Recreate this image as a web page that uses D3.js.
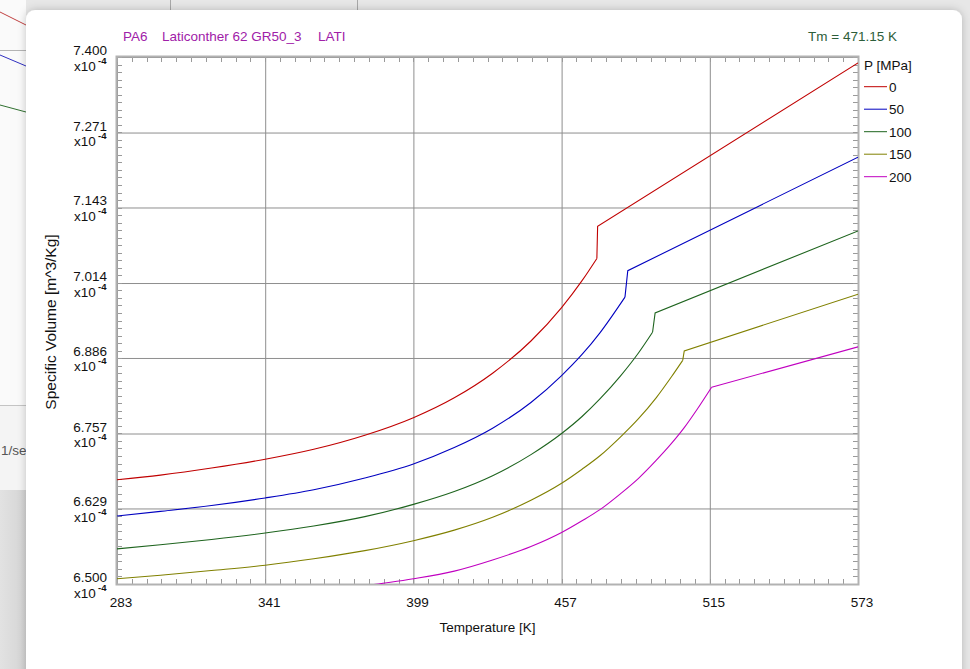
<!DOCTYPE html>
<html>
<head>
<meta charset="utf-8">
<script src="https://cdn.jsdelivr.net/npm/d3@7"></script>
<style>
  body { margin: 0; background: #e8e8e8; overflow: hidden; }
  svg { display: block; font-family: Arial, "Liberation Sans", sans-serif; }
</style>
</head>
<body>
<div class="canvas"></div>
<script>
// pressure series, temperature [K] vs specific volume [x10^-4 m^3/Kg]
const pressures = ['0', '50', '100', '150', '200']
const colors = ['#c00000', '#0000c0', '#1e641e', '#808000', '#c000c0']
// temperature where each curve leaves the solid branch
const kneeT = [470.8, 481.8, 492.6, 504.4, 515.7]

const p0 = [[283, 6.678], [300, 6.686], [320, 6.698], [341, 6.713], [360, 6.730], [380, 6.754],
  [399, 6.784], [415, 6.818], [430, 6.860], [445, 6.915], [457, 6.972], [465, 7.018],
  [470.8, 7.056], [471.1, 7.111], [573, 7.390]]
const p50 = [[283, 6.616], [300, 6.624], [320, 6.634], [341, 6.647], [360, 6.661], [380, 6.681],
  [399, 6.705], [415, 6.733], [430, 6.766], [445, 6.810], [457, 6.856], [465, 6.892],
  [472, 6.929], [481.8, 6.990], [482.9, 7.035], [573, 7.229]]
const p100 = [[283, 6.560], [300, 6.567], [320, 6.576], [341, 6.587], [360, 6.599], [380, 6.615],
  [399, 6.636], [415, 6.658], [430, 6.685], [445, 6.721], [457, 6.757], [465, 6.786],
  [472, 6.816], [480, 6.855], [487, 6.894], [492.6, 6.930], [493.6, 6.963], [573, 7.103]]
const p150 = [[283, 6.509], [300, 6.515], [320, 6.523], [341, 6.532], [360, 6.543], [380, 6.557],
  [399, 6.574], [415, 6.592], [430, 6.614], [445, 6.643], [457, 6.672], [465, 6.696],
  [472, 6.719], [480, 6.751], [487, 6.782], [494, 6.818], [500, 6.854], [504.4, 6.882],
  [505.0, 6.898], [573, 6.995]]
const p200 = [[378, 6.496], [390, 6.503], [399, 6.509], [415, 6.522], [430, 6.541], [445, 6.564],
  [457, 6.588], [465, 6.608], [472, 6.627], [480, 6.654], [487, 6.680], [494, 6.711],
  [500, 6.740], [505, 6.767], [510, 6.798], [515.7, 6.836], [573, 6.905]]
const series = [p0, p50, p100, p150, p200]

const xTicks = [283, 341, 399, 457, 515, 573]
const yTickLabels = ['6.500', '6.629', '6.757', '6.886', '7.014', '7.143', '7.271', '7.400']

const dimensions = {
  margin: { top: 57, left: 117 },
  chartWidth: 970,
  chartHeight: 669,
  graphWidth: 741,
  graphHeight: 527,
}
const W = dimensions.graphWidth
const H = dimensions.graphHeight

const svg = d3
  .select('.canvas')
  .append('svg')
  .attr('width', dimensions.chartWidth)
  .attr('height', dimensions.chartHeight)

const defs = svg.append('defs')
const fade = defs.append('linearGradient').attr('id', 'fade').attr('x1', 0).attr('x2', 1)
fade.append('stop').attr('offset', 0).attr('stop-color', '#e2e2e2')
fade.append('stop').attr('offset', 1).attr('stop-color', '#d4d4d4')
const shadow = defs.append('filter').attr('id', 'shadow').attr('x', '-5%').attr('y', '-5%')
  .attr('width', '110%').attr('height', '110%')
shadow.append('feDropShadow').attr('dx', 0).attr('dy', 0).attr('stdDeviation', 4)
  .attr('flood-color', '#000').attr('flood-opacity', 0.22)
defs.append('clipPath').attr('id', 'plot-clip')
  .append('rect').attr('width', W).attr('height', H)

// background (window behind the dialog)
const bg = svg.append('g')
bg.append('rect').attr('width', 970).attr('height', 669).attr('fill', '#e7e7e7')
bg.append('rect').attr('width', 26).attr('height', 405).attr('fill', '#fafafa')
bg.append('line').attr('x1', 0).attr('x2', 26).attr('y1', 50.5).attr('y2', 50.5).attr('stroke', '#b4b4b4')
const bgLines = [[12, 25, '#c04040'], [55, 66, '#3030c0'], [105, 112, '#307030']]
bgLines.forEach(([a, b, c]) =>
  bg.append('line').attr('x1', 0).attr('x2', 26).attr('y1', a).attr('y2', b).attr('stroke', c))
bg.append('line').attr('x1', 0).attr('x2', 26).attr('y1', 405.5).attr('y2', 405.5).attr('stroke', '#c4c4c4')
bg.append('rect').attr('y', 406).attr('width', 26).attr('height', 84).attr('fill', '#f4f4f4')
bg.append('rect').attr('y', 490).attr('width', 26).attr('height', 179).attr('fill', 'url(#fade)')
bg.append('text').attr('x', 1).attr('y', 455).attr('font-size', 13.5).attr('fill', '#555').text('1/se')
bg.append('line').attr('x1', 170.5).attr('x2', 170.5).attr('y1', 0).attr('y2', 10).attr('stroke', '#a8a8a8')
bg.append('line').attr('x1', 357.5).attr('x2', 357.5).attr('y1', 0).attr('y2', 10).attr('stroke', '#a8a8a8')

// dialog panel
svg.append('rect')
  .attr('x', 26).attr('y', 10).attr('width', 936).attr('height', 700).attr('rx', 9)
  .attr('fill', '#fff').attr('filter', 'url(#shadow)')

const graph = svg
  .append('g')
  .attr('transform', `translate(${dimensions.margin.left}, ${dimensions.margin.top})`)

// scales
const x = d3.scaleLinear().domain([283, 573]).range([0, W])
const y = d3.scaleLinear().domain([6.5, 7.4]).range([H, 0])
const yTicks = yTickLabels.map(Number)

// grid lines
graph.append('g')
  .call(d3.axisBottom(x).tickValues(xTicks).tickSize(H).tickFormat(''))
  .call((g) => g.select('.domain').remove())
  .selectAll('line').attr('stroke', '#8e8e8e')
graph.append('g')
  .call(d3.axisLeft(y).tickValues(yTicks).tickSize(-W).tickFormat(''))
  .call((g) => g.select('.domain').remove())
  .selectAll('line').attr('stroke', '#8e8e8e')

// minor ticks on all four sides
const xMinor = d3.range(0, 51).map((i) => x.invert((i * W) / 50))
const yMinor = d3.range(0, 71).map((i) => y.invert((i * H) / 70))
const ticks = graph.append('g').attr('stroke', '#9a9a9a')
xMinor.forEach((v) => {
  const px = Math.round(x(v)) + 0.5
  ticks.append('line').attr('x1', px).attr('x2', px).attr('y1', 0).attr('y2', 5)
  ticks.append('line').attr('x1', px).attr('x2', px).attr('y1', H - 5).attr('y2', H)
})
yMinor.forEach((v) => {
  const py = Math.round(y(v)) + 0.5
  ticks.append('line').attr('x1', 0).attr('x2', 5).attr('y1', py).attr('y2', py)
  ticks.append('line').attr('x1', W - 5).attr('x2', W).attr('y1', py).attr('y2', py)
})

// plot border
graph.append('rect')
  .attr('x', -0.5).attr('y', -0.5).attr('width', W + 1).attr('height', H + 1)
  .attr('fill', 'none').attr('stroke', '#b2b2b2').attr('stroke-width', 2)

// curves: smooth solid branch, then the melt jump and straight melt branch
const solidLine = d3.line().x((d) => x(d[0])).y((d) => y(d[1])).curve(d3.curveMonotoneX)
const meltLine = d3.line().x((d) => x(d[0])).y((d) => y(d[1]))
const curves = graph.append('g').attr('clip-path', 'url(#plot-clip)')
  .attr('fill', 'none').attr('stroke-width', 1.1)
series.forEach((d, i) => {
  curves.append('path').attr('stroke', colors[i])
    .attr('d', solidLine(d.filter((p) => p[0] <= kneeT[i])))
  curves.append('path').attr('stroke', colors[i])
    .attr('d', meltLine(d.filter((p) => p[0] >= kneeT[i])))
})

// x axis labels
const xAxisGroup = graph.append('g').attr('transform', `translate(0, ${H})`)
xAxisGroup.call(d3.axisBottom(x).tickValues(xTicks).tickSize(0).tickFormat(d3.format('d')))
xAxisGroup.select('.domain').remove()
xAxisGroup.selectAll('text')
  .attr('x', 3.5).attr('y', 23).attr('dy', null)
  .attr('font-size', 13.5).attr('font-family', 'Arial, "Liberation Sans", sans-serif')
  .attr('fill', '#111')

// y axis labels (value + exponent)
const yLab = graph.append('g').attr('fill', '#111').attr('font-size', 13.5)
yTicks.forEach((v, i) => {
  const py = y(v)
  yLab.append('text').attr('x', -10).attr('y', py - 2).attr('text-anchor', 'end').text(yTickLabels[i])
  yLab.append('text').attr('x', -43).attr('y', py + 13.5).text('x10')
  yLab.append('text').attr('x', -19).attr('y', py + 6.5).attr('font-size', 9.5)
    .attr('font-weight', 'bold').text('-4')
})

// axis titles
svg.append('text')
  .attr('x', dimensions.margin.left + W / 2).attr('y', 632)
  .attr('text-anchor', 'middle').attr('font-size', 13.5).attr('fill', '#111')
  .text('Temperature [K]')
svg.append('text')
  .attr('transform', 'translate(56, 322) rotate(-90)')
  .attr('text-anchor', 'middle').attr('font-size', 15.5).attr('fill', '#111')
  .text('Specific Volume [m^3/Kg]')

// header texts
const header = svg.append('g').attr('font-size', 13.5).attr('fill', '#a020a8')
header.append('text').attr('x', 123).attr('y', 41).text('PA6')
header.append('text').attr('x', 162).attr('y', 41).text('Laticonther 62 GR50_3')
header.append('text').attr('x', 318).attr('y', 41).text('LATI')
svg.append('text')
  .attr('x', 897).attr('y', 41).attr('text-anchor', 'end')
  .attr('font-size', 13.5).attr('fill', '#2d5e3a')
  .text('Tm = 471.15 K')

// legend
const legend = svg.append('g').attr('font-size', 13.5).attr('fill', '#111')
legend.append('text').attr('x', 864).attr('y', 70).text('P [MPa]')
pressures.forEach((p, i) => {
  const ly = 86.7 + i * 22.5
  legend.append('line')
    .attr('x1', 864).attr('x2', 887).attr('y1', ly).attr('y2', ly)
    .attr('stroke', colors[i])
  legend.append('text').attr('x', 889).attr('y', ly + 5).text(p)
})
</script>
</body>
</html>
